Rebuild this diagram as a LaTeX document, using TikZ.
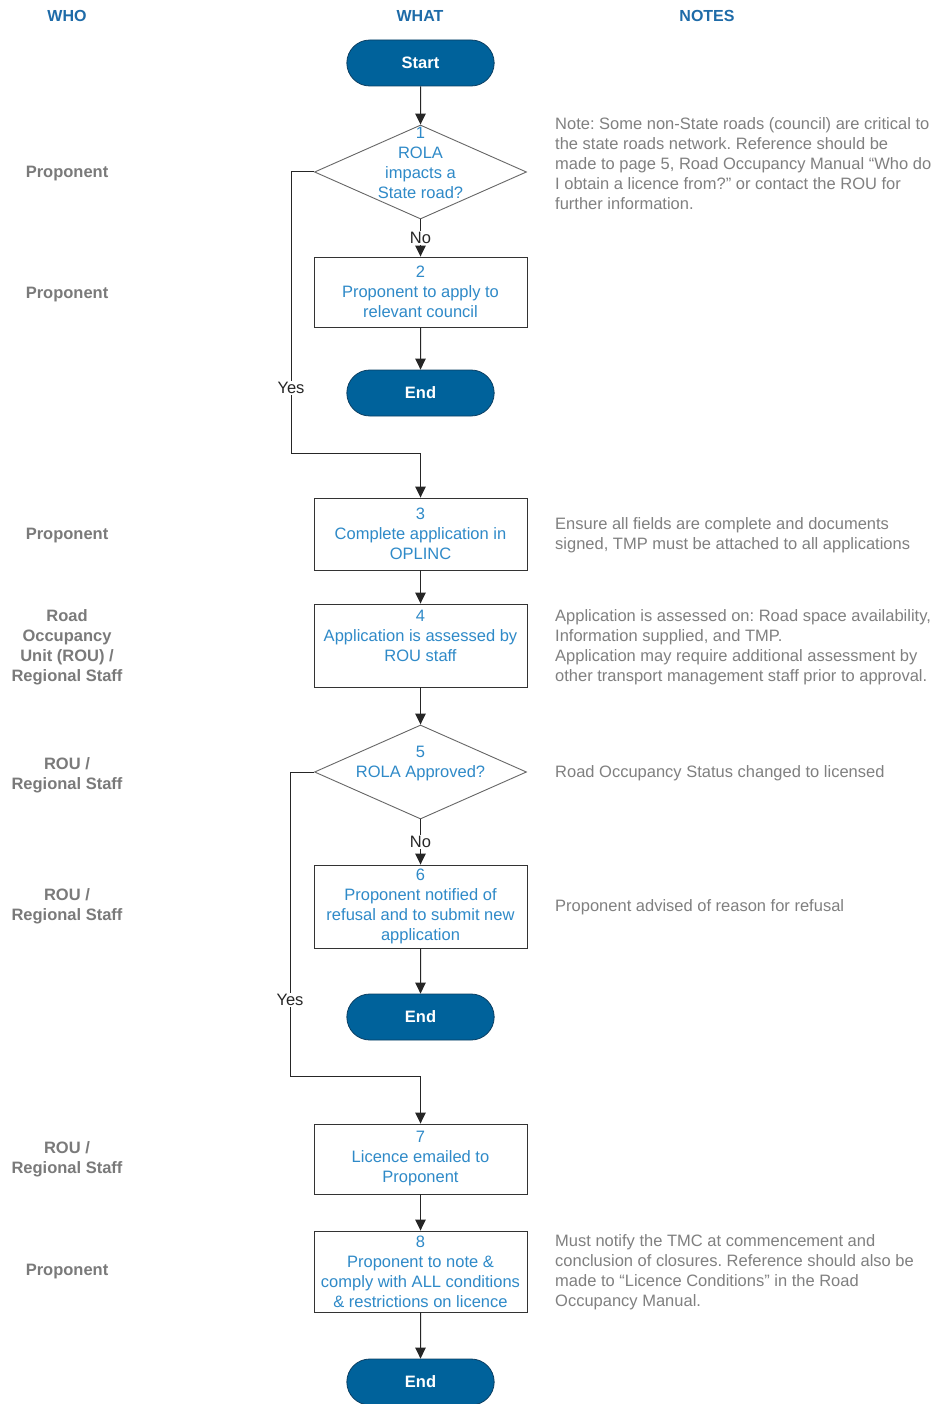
\documentclass[tikz,border=0pt]{standalone}
\usepackage{fontspec}
\setmainfont{Liberation Sans}
\usetikzlibrary{shapes.geometric,shapes.misc,arrows.meta}
\definecolor{hdr}{HTML}{1E6BA8}
\definecolor{txt}{HTML}{2F8AC8}
\definecolor{who}{HTML}{7A7A7A}
\definecolor{note}{HTML}{808080}
\definecolor{pill}{HTML}{00629B}
\definecolor{pillb}{HTML}{0B3F63}
\begin{document}
\begin{tikzpicture}[x=1pt,y=-1pt,
 font=\fontsize{16.5}{20}\selectfont\frenchspacing,
 hdrs/.style={font=\fontsize{16}{20}\selectfont\bfseries, text=hdr},
 whos/.style={font=\fontsize{16.5}{20}\selectfont\bfseries, text=who, align=center, inner sep=0},
 notes/.style={text=note, align=left, anchor=west, inner sep=0},
 pillbox/.style={rounded rectangle, fill=pill, draw=pillb, line width=0.8pt, minimum width=154pt, minimum height=46pt, text=white, font=\fontsize{16.5}{20}\selectfont\bfseries},
 stepbox/.style={rectangle, draw=black!80, line width=0.9pt, minimum width=213pt, text=txt, align=center, inner sep=0},
 decbox/.style={diamond, draw=black!60, line width=0.9pt, minimum width=212pt, minimum height=94pt, inner sep=0},
 dectext/.style={text=txt, align=center, inner sep=0},
 arr/.style={draw=black!85, line width=1pt, -{Triangle[width=10.5pt,length=11pt]}},
 lbl/.style={fill=white, inner sep=1pt, text=black!85}
]
\useasboundingbox[fill=white] (0,0) rectangle (941,1404);

% headers
\node[hdrs] (hwho) at (67,16) {WHO};
\node[hdrs] (hwhat) at (420,16) {WHAT};
\node[hdrs] (hnotes) at (707,16) {NOTES};

% who column
\node[whos] (w1) at (67,173.5) {Proponent};
\node[whos] (w2) at (67,294.5) {Proponent};
\node[whos] (w3) at (67,535.5) {Proponent};
\node[whos] (w4) at (67,647.5) {Road\\Occupancy\\Unit (ROU) /\\Regional Staff};
\node[whos] (w5) at (67,775.5) {ROU /\\Regional Staff};
\node[whos] (w6) at (67,906.5) {ROU /\\Regional Staff};
\node[whos] (w7) at (67,1159) {ROU /\\Regional Staff};
\node[whos] (w8) at (67,1271.5) {Proponent};

% flow
\node[pillbox] (start) at (420.5,63) {Start};
\node[decbox] (d1) at (420.5,172) {};
\node[dectext] (d1t) at (420.5,162.5) {1\\ROLA\\impacts a\\State road?};
\node[stepbox, minimum height=70pt] (b2) at (420.5,292) {2\\Proponent to apply to\\relevant council};
\node[pillbox] (end1) at (420.5,393) {End};
\node[stepbox, minimum height=72pt] (b3) at (420.5,534) {3\\Complete application in\\OPLINC};
\node[stepbox, minimum height=83pt] (b4) at (420.5,645.5) {4\\Application is assessed by\\ROU staff\\[-6pt]\strut};
\node[decbox] (d5) at (420.5,772) {};
\node[dectext] (d5t) at (420.5,764) {5\\ROLA Approved?};
\node[stepbox, minimum height=83pt] (b6) at (420.5,906.5) {6\\Proponent notified of\\refusal and to submit new\\application};
\node[pillbox] (end2) at (420.5,1017) {End};
\node[stepbox, minimum height=70pt] (b7) at (420.5,1159) {7\\Licence emailed to\\Proponent};
\node[stepbox, minimum height=81pt] (b8) at (420.5,1271.5) {8\\Proponent to note \&\\comply with ALL conditions\\\& restrictions on licence};
\node[pillbox] (end3) at (420.5,1382) {End};

% connectors
\draw[arr] (start) -- (d1);
\draw[arr] (d1.south) -- node[lbl] (no1) {No} (b2.north);
\draw[arr] (b2) -- (end1);
\coordinate (c1) at (291,453);
\draw[arr] (d1.west) -| (c1) -| (b3.north);
\node[lbl] (yes1) at (291,388) {Yes};
\draw[arr] (b3) -- (b4);
\draw[arr] (b4) -- (d5);
\draw[arr] (d5.south) -- node[lbl] (no2) {No} (b6.north);
\draw[arr] (b6) -- (end2);
\coordinate (c2) at (290,1076);
\draw[arr] (d5.west) -| (c2) -| (b7.north);
\node[lbl] (yes2) at (290,1000) {Yes};
\draw[arr] (b7) -- (b8);
\draw[arr] (b8) -- (end3);

% notes
\node[notes] (n1) at (555,164) {Note: Some non-State roads (council) are critical to\\the state roads network. Reference should be\\made to page 5, Road Occupancy Manual “Who do\\I obtain a licence from?” or contact the ROU for\\further information.};
\node[notes] (n3) at (555,535) {Ensure all fields are complete and documents\\signed, TMP must be attached to all applications};
\node[notes] (n4) at (555,647.5) {Application is assessed on: Road space availability,\\Information supplied, and TMP.\\Application may require additional assessment by\\other transport management staff prior to approval.};
\node[notes] (n5) at (555,773) {Road Occupancy Status changed to licensed};
\node[notes] (n6) at (555,907) {Proponent advised of reason for refusal};
\node[notes] (n8) at (555,1272) {Must notify the TMC at commencement and\\conclusion of closures. Reference should also be\\made to “Licence Conditions” in the Road\\Occupancy Manual.};
\end{tikzpicture}
\end{document}
